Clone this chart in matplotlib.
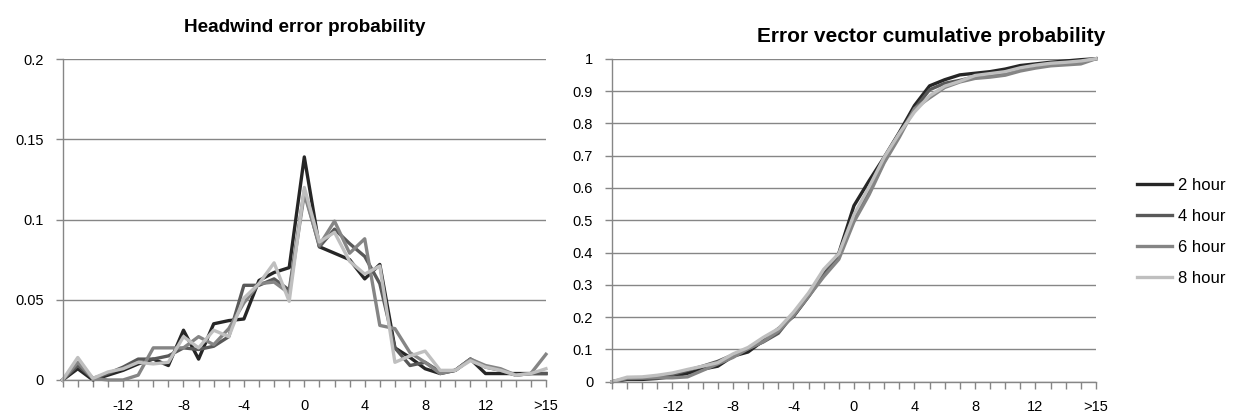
import matplotlib
matplotlib.use('Agg')
import matplotlib.pyplot as plt

plt.rcParams['font.family'] = ['Liberation Sans', 'DejaVu Sans']

# categories (error bins), first bin has no label
bins = [''] + [str(v) for v in range(-15, 16)] + ['>15']

series_names = ['2 hour', '4 hour', '6 hour', '8 hour']
series_colors = ['#262626', '#595959', '#858585', '#bfbfbf']

# headwind error probability
prob_2h = [0, 0.007, 0.0, 0.003, 0.006, 0.010, 0.013, 0.009, 0.031, 0.013, 0.035,
           0.037, 0.038, 0.062, 0.067, 0.070, 0.139, 0.083, 0.079, 0.075, 0.063,
           0.072, 0.020, 0.014, 0.007, 0.004, 0.006, 0.013, 0.004, 0.004, 0.004,
           0.004, 0.004]
prob_4h = [0, 0.009, 0.001, 0.004, 0.008, 0.013, 0.013, 0.015, 0.020, 0.019, 0.021,
           0.027, 0.059, 0.059, 0.063, 0.056, 0.118, 0.083, 0.094, 0.085, 0.077,
           0.060, 0.020, 0.009, 0.011, 0.005, 0.006, 0.013, 0.008, 0.006, 0.003,
           0.004, 0.004]
prob_6h = [0, 0.011, 0.001, 0.0, 0.0, 0.003, 0.020, 0.020, 0.020, 0.027, 0.022,
           0.032, 0.048, 0.060, 0.061, 0.054, 0.116, 0.084, 0.099, 0.079, 0.088,
           0.034, 0.032, 0.017, 0.011, 0.004, 0.006, 0.013, 0.009, 0.007, 0.003,
           0.004, 0.016]
prob_8h = [0, 0.014, 0.001, 0.005, 0.007, 0.011, 0.010, 0.011, 0.027, 0.020, 0.031,
           0.027, 0.051, 0.060, 0.073, 0.049, 0.120, 0.086, 0.092, 0.074, 0.066,
           0.071, 0.011, 0.015, 0.018, 0.006, 0.006, 0.012, 0.008, 0.006, 0.003,
           0.004, 0.007]

# error vector cumulative probability
cum_2h = [0, 0.007, 0.007, 0.010, 0.016, 0.026, 0.039, 0.048, 0.079, 0.092, 0.127,
          0.164, 0.202, 0.264, 0.331, 0.398, 0.545, 0.622, 0.695, 0.772, 0.855,
          0.916, 0.935, 0.950, 0.955, 0.960, 0.968, 0.979, 0.984, 0.989, 0.993,
          0.997, 1.0]
cum_4h = [0, 0.009, 0.010, 0.014, 0.022, 0.035, 0.048, 0.063, 0.083, 0.102, 0.123,
          0.150, 0.209, 0.268, 0.331, 0.387, 0.505, 0.588, 0.682, 0.767, 0.844,
          0.904, 0.924, 0.933, 0.944, 0.949, 0.955, 0.968, 0.976, 0.982, 0.985,
          0.991, 1.0]
cum_6h = [0, 0.011, 0.012, 0.012, 0.012, 0.015, 0.035, 0.055, 0.075, 0.102, 0.124,
          0.156, 0.204, 0.264, 0.325, 0.379, 0.495, 0.579, 0.678, 0.757, 0.845,
          0.879, 0.911, 0.928, 0.939, 0.943, 0.949, 0.962, 0.971, 0.978, 0.981,
          0.984, 1.0]
cum_8h = [0, 0.014, 0.015, 0.020, 0.027, 0.038, 0.048, 0.059, 0.086, 0.106, 0.137,
          0.164, 0.215, 0.275, 0.348, 0.397, 0.517, 0.603, 0.695, 0.769, 0.835,
          0.885, 0.915, 0.930, 0.948, 0.954, 0.960, 0.972, 0.980, 0.986, 0.989,
          0.993, 1.0]

left_yticks = [0, 0.05, 0.1, 0.15, 0.2]
left_ylabels = ['0', '0.05', '0.1', '0.15', '0.2']
right_yticks = [0, 0.1, 0.2, 0.3, 0.4, 0.5, 0.6, 0.7, 0.8, 0.9, 1.0]
right_ylabels = ['0', '0.1', '0.2', '0.3', '0.4', '0.5', '0.6', '0.7', '0.8', '0.9', '1']

grey = '#868686'

fig = plt.figure(figsize=(12.36, 4.13), dpi=100)
ax1 = fig.add_axes([0.0507, 0.080, 0.3910, 0.777])
ax2 = fig.add_axes([0.4951, 0.0758, 0.3916, 0.782])


def style_axis(ax, yticks, ylabels, ymax):
    x = list(range(len(bins)))
    ax.set_xlim(0, len(bins) - 1)
    ax.set_ylim(0, ymax)
    ax.set_xticks(x)
    ax.set_xticklabels([b if i % 4 == 0 else '' for i, b in enumerate(bins)])
    ax.set_yticks(yticks)
    ax.set_yticklabels(ylabels)
    ax.grid(axis='y', color=grey, linewidth=1.0)
    ax.set_axisbelow(True)
    for s in ['top', 'right']:
        ax.spines[s].set_visible(False)
    for s in ['left', 'bottom']:
        ax.spines[s].set_color(grey)
        ax.spines[s].set_linewidth(1.0)
    ax.tick_params(axis='x', direction='out', length=5, width=1, color=grey,
                   labelsize=10.5, pad=8.5)
    ax.tick_params(axis='y', direction='out', length=5, width=1, color=grey,
                   labelsize=10.5, pad=8.5)


x = list(range(len(bins)))
for vals, name, c in zip([prob_2h, prob_4h, prob_6h, prob_8h], series_names, series_colors):
    ax1.plot(x, vals, color=c, linewidth=2.4, label=name, clip_on=False)
for vals, name, c in zip([cum_2h, cum_4h, cum_6h, cum_8h], series_names, series_colors):
    ax2.plot(x, vals, color=c, linewidth=2.4, label=name, clip_on=False)

style_axis(ax1, left_yticks, left_ylabels, 0.2)
style_axis(ax2, right_yticks, right_ylabels, 1.0)

fig.text(305 / 1236, 1 - 28 / 413, 'Headwind error probability', ha='center', va='center',
         fontsize=13.7, fontweight='bold')
fig.text(931 / 1236, 1 - 36 / 413, 'Error vector cumulative probability', ha='center',
         va='center', fontsize=15, fontweight='bold')

handles, labels = ax2.get_legend_handles_labels()
fig.legend(handles, labels, loc='center left', bbox_to_anchor=(1137 / 1236, 1 - 232 / 413),
           frameon=False, fontsize=12, handlelength=2.1, handletextpad=0.36,
           labelspacing=0.95, borderpad=0, borderaxespad=0)

fig.savefig('out.png', dpi=100)
